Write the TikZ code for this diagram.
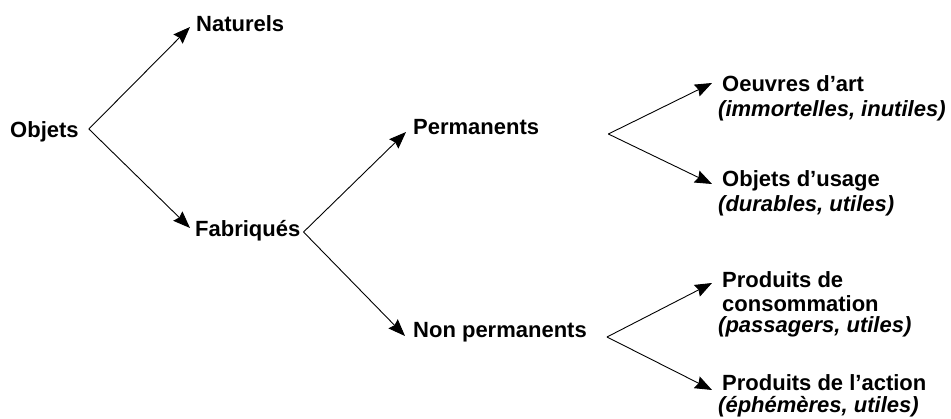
\documentclass[tikz,border=0pt]{standalone}
\usepackage{fontspec}
\setmainfont{Liberation Sans}
\usetikzlibrary{arrows.meta,calc}
\begin{document}
\begin{tikzpicture}[x=1pt,y=-1pt,
  lbl/.style={anchor=base west, inner sep=0pt, font=\fontsize{22}{25}\selectfont\bfseries},
  sub/.style={lbl, font=\fontsize{22}{25}\selectfont\bfseries\itshape},
  conn/.style={line width=0.9pt, -{Stealth[length=17pt,width=13pt,inset=2pt]}}]
\useasboundingbox[fill=white] (0,0) rectangle (951,419);
% nodes
\node[lbl] (objets) at (10,138) {Objets};
\node[lbl] (naturels) at (196,32) {Naturels};
\node[lbl] (fabriques) at (195,237) {Fabriqués};
\node[lbl] (permanents) at (413,135) {Permanents};
\node[lbl] (nonperm) at (413,338) {Non permanents};
\node[lbl] (oeuvres) at (722,92) {Oeuvres d’art};
\node[sub] (oeuvres-sub) at (718,117) {(immortelles, inutiles)};
\node[lbl] (usage) at (722,187) {Objets d’usage};
\node[sub] (usage-sub) at (718,212) {(durables, utiles)};
\node[lbl] (prodcons) at (722,288) {Produits de};
\node[lbl] (prodcons-2) at (722,312) {consommation};
\node[sub] (prodcons-sub) at (718,333) {(passagers, utiles)};
\node[lbl] (prodaction) at (722,391) {Produits de l’action};
\node[sub] (prodaction-sub) at (718,413) {(éphémères, utiles)};
% connectors
\draw[conn] ([shift={(10,-9)}]objets.base east) -- ([shift={(-6,-5)}]naturels.base west);
\draw[conn] ([shift={(10,-9)}]objets.base east) -- ([shift={(-5,-9)}]fabriques.base west);
\draw[conn] ([shift={(3,-5)}]fabriques.base east) -- ([shift={(-7,-3)}]permanents.base west);
\draw[conn] ([shift={(3,-5)}]fabriques.base east) -- ([shift={(-8,-2)}]nonperm.base west);
\draw[conn] ([shift={(69,-1)}]permanents.base east) -- ([shift={(-10,-9)}]oeuvres.base west);
\draw[conn] ([shift={(69,-1)}]permanents.base east) -- ([shift={(-10,-3)}]usage.base west);
\draw[conn] ([shift={(20,-1)}]nonperm.base east) -- ([shift={(-10,-5)}]prodcons.base west);
\draw[conn] ([shift={(20,-1)}]nonperm.base east) -- ([shift={(-10,-1)}]prodaction.base west);
\end{tikzpicture}
\end{document}
